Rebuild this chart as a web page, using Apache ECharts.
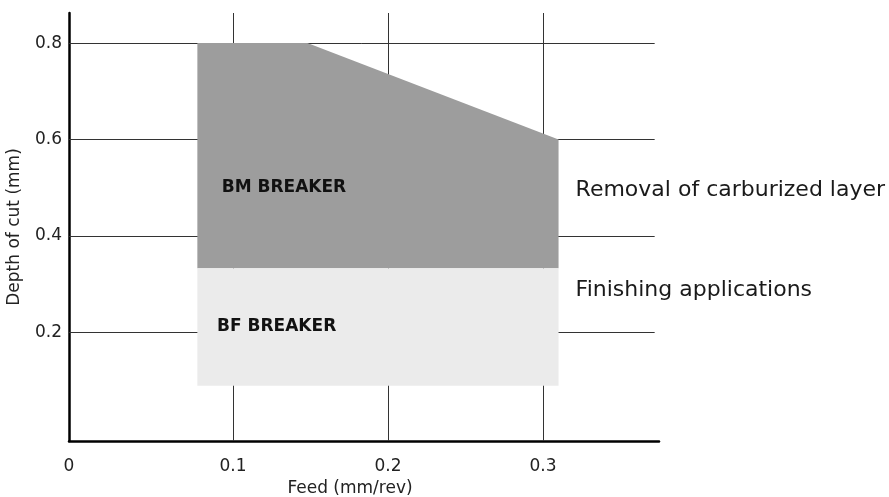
<!DOCTYPE html>
<html>
<head>
<meta charset="utf-8">
<script src="https://cdn.jsdelivr.net/npm/echarts@6/dist/echarts.min.js"></script>
<style>
  html, body { margin: 0; padding: 0; background: #fff; }
  #chart { width: 889px; height: 497px; }
</style>
</head>
<body>
<div id="chart"></div>
<script>
// axis ticks
const xTicks = [0, 0.1, 0.2, 0.3];
const yTicks = [0.2, 0.4, 0.6, 0.8];

// BM breaker area (dark grey)
const bmFeed = [0.077, 0.077, 0.148, 0.31, 0.31];
const bmDepth = [0.333, 0.8, 0.8, 0.6, 0.333];

// BF breaker area (light grey)
const bfFeed = [0.077, 0.077, 0.31, 0.31];
const bfDepth = [0.089, 0.333, 0.333, 0.089];

// labels inside areas and notes on the right
const areaNames = ['BM BREAKER', 'BF BREAKER'];
const areaNameFeed = [0.0927, 0.0897];
const areaNameDepth = [0.5, 0.211];
const notes = ['Removal of carburized layer', 'Finishing applications'];
const noteFeed = [0.321, 0.321];
const noteDepth = [0.495, 0.288];

const xMin = -0.0058, xMax = 0.3748;
const yMin = -0.0255, yMax = 0.8625;
const hLineEnd = 0.372;

const FONT = 'DejaVu Sans';

let chartDom = document.getElementById('chart');
let myChart = echarts.init(chartDom);

let areas = [
  { pts: bmFeed.map((f, i) => [f, bmDepth[i]]), color: '#9d9d9d' },
  { pts: bfFeed.map((f, i) => [f, bfDepth[i]]), color: '#ebebeb' }
];

let gridLines = [];
yTicks.forEach(y => {
  gridLines.push([{ coord: [xMin, y] }, { coord: [hLineEnd, y] }]);
});
xTicks.slice(1).forEach(x => {
  gridLines.push({ xAxis: x });
});

let textData = areaNames.map((n, i) => ({
  value: [areaNameFeed[i], areaNameDepth[i]],
  name: n,
  label: { fontFamily: FONT, fontSize: 17, fontWeight: 'bold', color: '#111' }
})).concat(notes.map((n, i) => ({
  value: [noteFeed[i], noteDepth[i]],
  name: n,
  label: { fontFamily: FONT, fontSize: 22, color: '#1a1a1a' }
})));

let option = {
  animation: false,
  grid: { left: 69, right: 230, top: 13, bottom: 56, outerBoundsMode: 'none', containLabel: false },
  xAxis: {
    type: 'value',
    min: xMin,
    max: xMax,
    name: 'Feed (mm/rev)',
    nameLocation: 'middle',
    nameGap: 38,
    nameTextStyle: { fontFamily: FONT, fontSize: 17, color: '#222', padding: [0, 28, 0, 0] },
    axisLine: { onZero: false, lineStyle: { color: '#000', width: 2.5 } },
    axisTick: { show: false },
    splitLine: { show: false },
    axisLabel: {
      customValues: xTicks.map(v => (v === 0 ? xMin : v)),
      showMinLabel: true,
      formatter: v => (v <= 0 ? '0' : String(Math.round(v * 10) / 10)),
      margin: 17,
      fontFamily: FONT,
      fontSize: 17,
      color: '#222'
    }
  },
  yAxis: {
    type: 'value',
    min: yMin,
    max: yMax,
    name: 'Depth of cut (mm)',
    nameLocation: 'middle',
    nameGap: 46,
    nameTextStyle: { fontFamily: FONT, fontSize: 17, color: '#222' },
    axisLine: { onZero: false, lineStyle: { color: '#000', width: 2.5 } },
    axisTick: { show: false },
    splitLine: { show: false },
    axisLabel: {
      customValues: yTicks,
      margin: 7,
      fontFamily: FONT,
      fontSize: 17,
      color: '#222'
    }
  },
  series: [
    {
      type: 'line',
      data: [],
      z: 1,
      silent: true,
      markLine: {
        z: 1,
        silent: true,
        symbol: 'none',
        label: { show: false },
        lineStyle: { color: '#333', width: 1, type: 'solid', opacity: 1 },
        data: gridLines
      }
    },
    {
      type: 'custom',
      z: 3,
      silent: true,
      data: areas.map((a, i) => i),
      renderItem: function (params, api) {
        let a = areas[params.dataIndex];
        return {
          type: 'polygon',
          shape: { points: a.pts.map(p => api.coord(p)) },
          style: { fill: a.color }
        };
      }
    },
    {
      type: 'scatter',
      z: 4,
      silent: true,
      symbolSize: 0,
      itemStyle: { opacity: 1 },
      data: textData,
      label: {
        show: true,
        position: 'right',
        distance: 0,
        formatter: p => p.data.name
      }
    }
  ]
};

option && myChart.setOption(option);
</script>
</body>
</html>
